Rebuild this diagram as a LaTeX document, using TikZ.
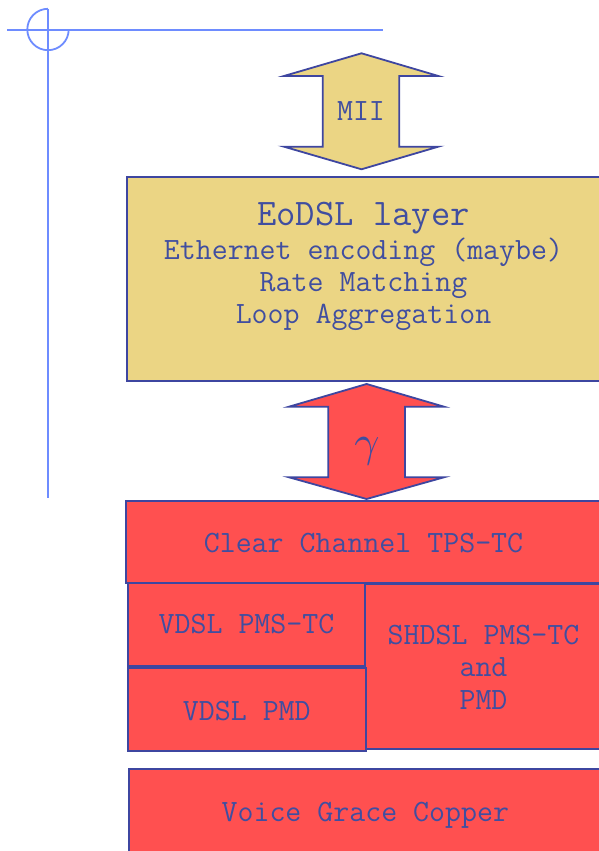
\documentclass[tikz,border=0pt]{standalone}
\usepackage{fontspec}
\definecolor{ylw}{RGB}{235,213,132}
\definecolor{rd}{RGB}{255,80,80}
\definecolor{edge}{RGB}{62,70,160}
\definecolor{txt}{RGB}{64,78,160}
\definecolor{rule}{RGB}{110,140,255}
\begin{document}
\begin{tikzpicture}[x=1pt,y=1pt,
  layerbox/.style={draw=edge,line width=1.8pt,anchor=south west,inner sep=0pt,outer sep=0pt},
  ylbox/.style={layerbox,fill=ylw},
  rdbox/.style={layerbox,fill=rd},
  lbl/.style={anchor=base,text=txt,inner sep=0pt,font=\ttfamily\fontsize{31}{34}\selectfont},
  title/.style={lbl,font=\ttfamily\fontsize{37.5}{40}\selectfont},
  arrowshape/.style={draw=edge,line width=1.8pt,line join=miter},
  guide/.style={draw=rule,line width=1.8pt}
]
\useasboundingbox (0,0) rectangle (598,851);
% guide lines
\coordinate (hl) at (7,821);
\coordinate (hr) at (382.7,821);
\coordinate (vt) at (48,842.2);
\coordinate (vb) at (48,353);
\draw[guide] (hl) -- (hr);
\draw[guide] (vt) -- (vb);
\draw[guide] (vt) arc[start angle=90,end angle=360,radius=20.7];
% MII arrow
\draw[arrowshape,fill=ylw] (361.5,797.7) -- (438.3,775) -- (399.3,775) -- (399.3,704.3) -- (438.3,704.3)
  -- (361.5,681.7) -- (284,704.3) -- (322.7,704.3) -- (322.7,775) -- (284,775) -- cycle;
\node[lbl] (mii) at (361,730) {MII};
% EoDSL box
\node[ylbox,minimum width=474pt,minimum height=204pt] (eodsl) at (127,470) {};
\node[title] (t1) at (363.5,625) {EoDSL layer};
\node[lbl] (t2) at (363.5,591) {Ethernet encoding (maybe)};
\node[lbl] (t3) at (363.5,559.3) {Rate Matching};
\node[lbl] (t4) at (363.5,527.7) {Loop Aggregation};
% gamma arrow
\draw[arrowshape,fill=rd] (366.6,467) -- (444,444.3) -- (405,444.3) -- (405,373.7) -- (444,373.7)
  -- (366.6,352) -- (289,373.7) -- (328.3,373.7) -- (328.3,444.3) -- (289,444.3) -- cycle;
\node[anchor=center,text=txt,inner sep=0pt,scale=4.4] (gam) at (367,400) {$\gamma$};
% red boxes
\node[rdbox,minimum width=475pt,minimum height=82pt] (cc) at (126,268.3) {};
\node[lbl] (cct) at (363.5,298.7) {Clear Channel TPS-TC};
\node[rdbox,minimum width=236pt,minimum height=165.3pt] (sh) at (365,101.7) {};
\node[lbl] (sh1) at (483.5,206) {SHDSL PMS-TC};
\node[lbl] (sh2) at (483.5,174.3) {and};
\node[lbl] (sh3) at (483.5,141.7) {PMD};
\node[rdbox,minimum width=236.7pt,minimum height=82.4pt] (vp) at (128.3,185.3) {};
\node[lbl] (vpt) at (246.5,217) {VDSL PMS-TC};
\node[rdbox,minimum width=237.7pt,minimum height=82.7pt] (vm) at (128,100) {};
\node[lbl] (vmt) at (246.8,130.3) {VDSL PMD};
\node[rdbox,minimum width=472pt,minimum height=91pt] (vg) at (129,-9.3) {};
\node[lbl] (vgt) at (365.3,29.3) {Voice Grace Copper};
\end{tikzpicture}
\end{document}
